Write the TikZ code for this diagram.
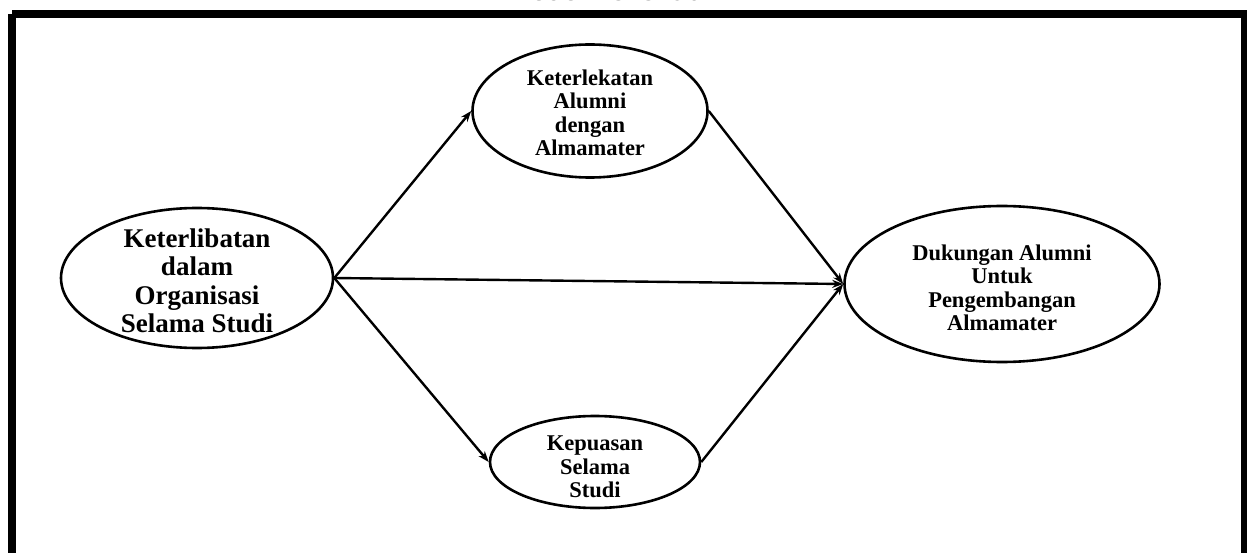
\documentclass[tikz,border=0pt]{standalone}
\usepackage{fontspec}
\setmainfont{Liberation Serif}
\usetikzlibrary{shapes.geometric,arrows.meta}
\begin{document}
\begin{tikzpicture}[x=1pt,y=-1pt,
  ell/.style={draw, ellipse, line width=2.6pt, inner sep=0pt},
  arr/.style={line width=2.4pt, -{Stealth[length=11pt,width=8pt]}},
  txtL/.style={align=center, font=\fontsize{27}{28.5}\selectfont\bfseries},
  txtS/.style={align=center, font=\fontsize{22.5}{23.4}\selectfont\bfseries}]
\useasboundingbox (0,0) rectangle (1247,553);
\node[anchor=base, font=\fontsize{30}{32}\selectfont\bfseries, text=black!75] (title) at (612,0.5) {Model Penelitian};
\draw[line width=8pt] (12,14) -- (1247,14) (12,14) -- (12,560) (1245,14) -- (1245,560);
\node[ell, minimum width=272pt, minimum height=140pt] (L) at (197,278) {};
\node[txtL] (Lt) at (197,281) {Keterlibatan\\dalam\\Organisasi\\Selama Studi};
\node[ell, minimum width=235pt, minimum height=133pt] (T) at (590,111) {};
\node[txtS] (Tt) at (590,113) {Keterlekatan\\Alumni\\dengan\\Almamater};
\node[ell, minimum width=315pt, minimum height=156pt] (R) at (1002,284) {};
\node[txtS] (Rt) at (1002,288) {Dukungan Alumni\\Untuk\\Pengembangan\\Almamater};
\node[ell, minimum width=210pt, minimum height=92pt] (B) at (595,462) {};
\node[txtS] (Bt) at (595,467) {Kepuasan\\Selama\\Studi};
\draw[arr] (L.east) -- (T.west);
\draw[arr] (L.east) -- (R.west);
\draw[arr] (L.east) -- (B.west);
\draw[arr] (T.east) -- (R.west);
\draw[arr] (B.east) -- (R.west);
\end{tikzpicture}
\end{document}
